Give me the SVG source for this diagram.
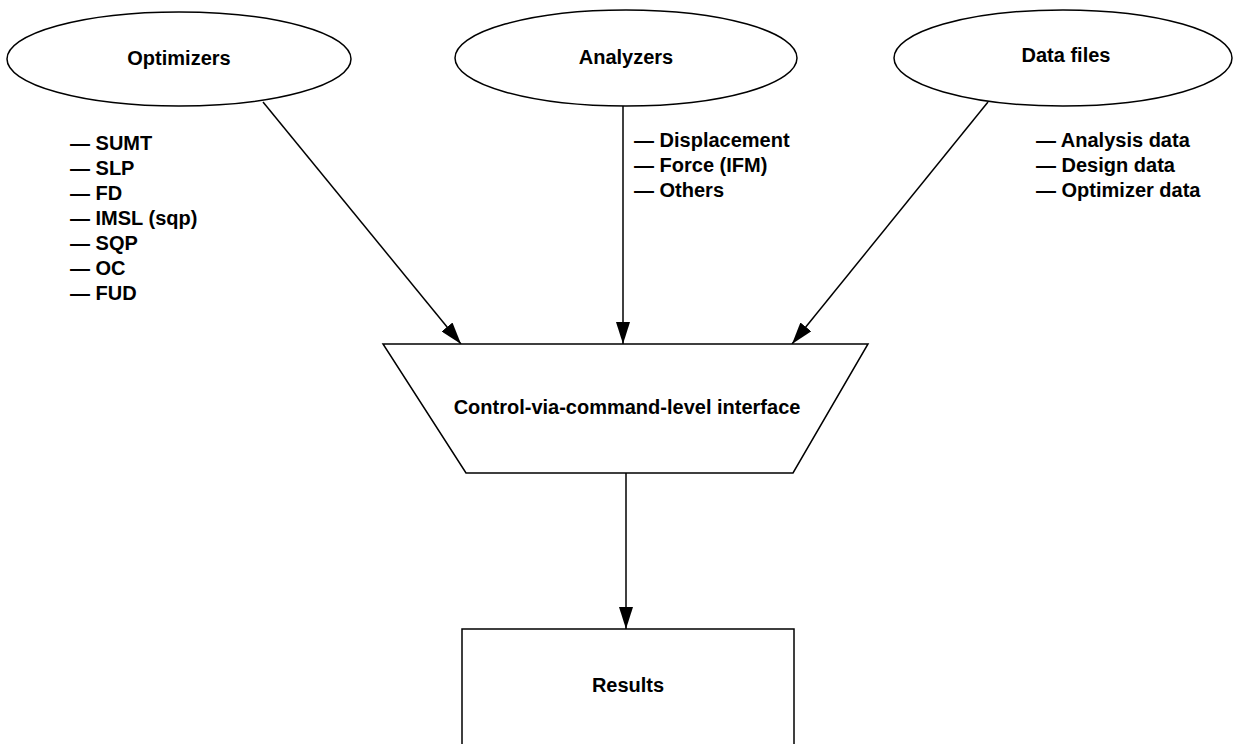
<svg xmlns="http://www.w3.org/2000/svg" width="1234" height="744" viewBox="0 0 1234 744">
<defs>
<style>
.shape{fill:#fff;stroke:#000;stroke-width:1.5}
.conn{fill:none;stroke:#000;stroke-width:1.5}
.t{font-family:"Liberation Sans",Arial,sans-serif;font-weight:bold;font-size:20px;fill:#000}
.c{text-anchor:middle}
</style>
<marker id="ah" markerUnits="userSpaceOnUse" markerWidth="24" markerHeight="14" refX="22" refY="7" orient="auto">
<path d="M0,0 L22,7 L0,14 z" fill="#000"/>
</marker>
</defs>
<rect width="1234" height="744" fill="#fff"/>
<g id="connectors">
<line class="conn" x1="263" y1="102" x2="461" y2="344" marker-end="url(#ah)"/>
<line class="conn" x1="623" y1="106" x2="623" y2="344" marker-end="url(#ah)"/>
<line class="conn" x1="988" y1="102" x2="792" y2="344" marker-end="url(#ah)"/>
<line class="conn" x1="626" y1="473" x2="626" y2="629" marker-end="url(#ah)"/>
</g>
<g id="optimizers">
<ellipse class="shape" cx="179" cy="59" rx="172" ry="47"/>
<text class="t c" x="179" y="65">Optimizers</text>
<text class="t" x="70" y="150">— SUMT</text>
<text class="t" x="70" y="175">— SLP</text>
<text class="t" x="70" y="200">— FD</text>
<text class="t" x="70" y="225">— IMSL (sqp)</text>
<text class="t" x="70" y="250">— SQP</text>
<text class="t" x="70" y="275">— OC</text>
<text class="t" x="70" y="300">— FUD</text>
</g>
<g id="analyzers">
<ellipse class="shape" cx="626" cy="58" rx="171" ry="48"/>
<text class="t c" x="626" y="64">Analyzers</text>
<text class="t" x="634" y="147">— Displacement</text>
<text class="t" x="634" y="172">— Force (IFM)</text>
<text class="t" x="634" y="197">— Others</text>
</g>
<g id="datafiles">
<ellipse class="shape" cx="1063" cy="58" rx="169" ry="48"/>
<text class="t c" x="1066" y="62">Data files</text>
<text class="t" x="1036" y="147">— Analysis data</text>
<text class="t" x="1036" y="172">— Design data</text>
<text class="t" x="1036" y="197">— Optimizer data</text>
</g>
<g id="interface">
<polygon class="shape" points="383,344 868,344 793,473 466,473"/>
<text class="t c" x="627" y="414">Control-via-command-level interface</text>
</g>
<g id="results">
<rect class="shape" x="462" y="629" width="332" height="140"/>
<text class="t c" x="628" y="692">Results</text>
</g>
</svg>
